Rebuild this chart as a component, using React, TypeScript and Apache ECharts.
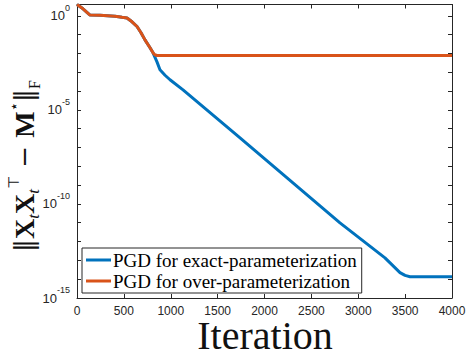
import { useEffect, useRef } from "react";
import * as echarts from "echarts";

// Iteration numbers and log10 of the error
const exactIter = [0, 64, 139, 245, 405, 480, 533, 587, 640, 683, 725, 779, 811, 853, 885, 939, 992, 1131, 1739, 2805, 3285, 3445, 3499, 3552, 4000];
const exactLog10 = [0.6, 0.37, 0.04, 0.03, -0.02, -0.08, -0.12, -0.32, -0.57, -0.9, -1.28, -1.7, -1.97, -2.45, -2.87, -3.16, -3.4, -3.94, -6.49, -11.01, -12.87, -13.65, -13.8, -13.87, -13.87];

const overIter = [0, 64, 139, 245, 405, 480, 533, 587, 640, 683, 725, 779, 811, 830, 853, 4000];
const overLog10 = [0.6, 0.37, 0.04, 0.03, -0.02, -0.08, -0.12, -0.32, -0.57, -0.9, -1.28, -1.7, -1.97, -2.07, -2.11, -2.11];

const seriesNames = ["PGD for exact-parameterization", "PGD for over-parameterization"];
const xTickValues = [0, 500, 1000, 1500, 2000, 2500, 3000, 3500, 4000];
const yLabelExponents = [-15, -10, -5, 0];
const yTickExponents = [-15, -14, -13, -12, -11, -10, -9, -8, -7, -6, -5, -4, -3, -2, -1, 0];
const xTitle = "Iteration";
const yTitle = "{n|‖}{b|X}{i|t}{b|X}{i|t}{p|⊤}{n| − }{b|M}{p|⋆}{n|‖}{f|F}";

const AX = "#262626";

export default function App() {
  const ref = useRef<HTMLDivElement>(null);
  useEffect(() => {
    const chart = echarts.init(ref.current!, null, { renderer: "svg" });
    const tickStyle = { show: true, inside: true, length: 4, lineStyle: { color: AX, width: 1 } };
    const lineAx = { show: true, onZero: false, lineStyle: { color: AX, width: 1 } };
    const serifBase = { fontFamily: "Liberation Serif", fontSize: 28, lineHeight: 36, fill: "#111", color: "#111" };
    chart.setOption({
      animation: false,
      backgroundColor: "#fff",
      grid: { left: 77, right: 14, top: 4.5, bottom: 56, containLabel: false, outerBoundsMode: "none" },
      graphic: [
        {
          type: "text",
          x: 24,
          y: 166,
          rotation: Math.PI / 2,
          style: {
            text: yTitle,
            align: "center",
            verticalAlign: "middle",
            rich: {
              n: { ...serifBase, fontFamily: "DejaVu Serif", fontSize: 26 },
              b: { ...serifBase, fontWeight: "bold" },
              i: { fontFamily: "Liberation Serif", fontStyle: "italic", fontSize: 17, lineHeight: 17, verticalAlign: "bottom", fill: "#111", color: "#111" },
              p: { fontFamily: "DejaVu Sans", fontSize: 15, lineHeight: 15, verticalAlign: "top", fill: "#111", color: "#111" },
              f: { fontFamily: "Liberation Serif", fontSize: 16, lineHeight: 16, verticalAlign: "bottom", fill: "#111", color: "#111" },
            },
          },
        },
        {
          type: "text",
          x: 265,
          y: 335,
          style: {
            text: xTitle,
            align: "center",
            verticalAlign: "middle",
            fontFamily: "Liberation Serif",
            fontSize: 40,
            lineHeight: 30,
            fill: "#111",
          },
        },
      ],
      legend: {
        orient: "vertical",
        left: 82,
        top: 248,
        data: seriesNames,
        icon: "rect",
        itemWidth: 25,
        itemHeight: 3,
        itemGap: 1,
        padding: [2, 5, 2, 4],
        backgroundColor: "#fff",
        borderColor: AX,
        borderWidth: 1,
        borderRadius: 0,
        textStyle: { fontFamily: "Liberation Serif", fontSize: 19, lineHeight: 20, color: "#000", padding: [0, 0, 0, -3] },
      },
      xAxis: [
        {
          type: "value",
          min: 0,
          max: 4000,
          interval: 500,
          position: "bottom",
          axisLine: lineAx,
          axisTick: { ...tickStyle, customValues: xTickValues },
          axisLabel: { color: AX, fontFamily: "Liberation Sans", fontSize: 12, margin: 7, customValues: xTickValues, formatter: (v: number) => String(v) },
          splitLine: { show: false },
        },
        {
          type: "value",
          min: 0,
          max: 4000,
          interval: 500,
          position: "top",
          axisLine: lineAx,
          axisTick: { ...tickStyle, customValues: xTickValues },
          axisLabel: { show: false },
          splitLine: { show: false },
        },
      ],
      yAxis: [
        {
          type: "value",
          min: -15,
          max: 0.6,
          position: "left",
          axisLine: lineAx,
          axisTick: { ...tickStyle, customValues: yTickExponents },
          axisLabel: {
            customValues: yLabelExponents,
            margin: 7,
            formatter: (v: number) => `{b|10}{s|${v}}`,
            rich: {
              b: { fontFamily: "Liberation Sans", fontSize: 13, lineHeight: 25, color: AX },
              s: { fontFamily: "Liberation Sans", fontSize: 9, lineHeight: 12, verticalAlign: "top", color: AX },
            },
          },
          splitLine: { show: false },
        },
        {
          type: "value",
          min: -15,
          max: 0.6,
          position: "right",
          axisLine: lineAx,
          axisTick: { ...tickStyle, customValues: yTickExponents },
          axisLabel: { show: false },
          splitLine: { show: false },
        },
      ],
      series: [
        {
          name: seriesNames[0],
          type: "line",
          data: exactIter.map((x, i) => [x, exactLog10[i]]),
          showSymbol: false,
          symbol: "none",
          lineStyle: { color: "#0072BD", width: 3 },
          itemStyle: { color: "#0072BD" },
          xAxisIndex: 0,
          yAxisIndex: 0,
        },
        {
          name: seriesNames[1],
          type: "line",
          data: overIter.map((x, i) => [x, overLog10[i]]),
          showSymbol: false,
          symbol: "none",
          lineStyle: { color: "#D95319", width: 3 },
          itemStyle: { color: "#D95319" },
          xAxisIndex: 0,
          yAxisIndex: 0,
        },
      ],
    });
    return () => chart.dispose();
  }, []);
  return <div ref={ref} style={{ position: "fixed", left: 0, top: 0, width: 466, height: 354 }} />;
}
